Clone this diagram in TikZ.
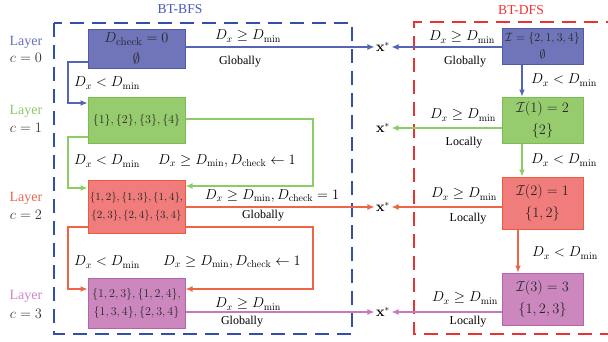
\documentclass[tikz,border=0pt]{standalone}
\usepackage[no-math]{fontspec}
\setmainfont{Liberation Serif}
\usetikzlibrary{arrows.meta}
\definecolor{fB}{RGB}{112,116,184}
\definecolor{dB}{RGB}{80,90,170}
\definecolor{fG}{RGB}{150,204,110}
\definecolor{dG}{RGB}{120,190,80}
\definecolor{fR}{RGB}{240,124,124}
\definecolor{dR}{RGB}{238,90,60}
\definecolor{fP}{RGB}{204,136,190}
\definecolor{dP}{RGB}{180,100,170}
\definecolor{cBl}{RGB}{85,100,180}
\definecolor{cG}{RGB}{140,204,100}
\definecolor{cR}{RGB}{240,100,70}
\definecolor{cP}{RGB}{200,120,190}
\definecolor{frB}{RGB}{50,80,170}
\definecolor{frR}{RGB}{235,50,50}
\definecolor{tB}{RGB}{70,90,180}
\definecolor{tR}{RGB}{240,50,50}
\definecolor{lB}{RGB}{100,110,190}
\definecolor{lG}{RGB}{140,200,100}
\definecolor{lR}{RGB}{240,100,80}
\definecolor{lP}{RGB}{210,130,200}
\definecolor{cc}{RGB}{50,50,50}
\tikzset{
  frame/.style={line width=1.3pt, dash pattern=on 14pt off 8pt},
  box/.style={draw, line width=1pt, align=center, inner sep=1pt, text=black!85},
  bfsbox/.style={box, minimum width=97pt},
  dfsbox/.style={box, minimum width=81pt, font=\fontsize{14}{22}\selectfont},
  lab/.style={font=\fontsize{12}{14}\selectfont, inner sep=0pt},
  mlab/.style={font=\fontsize{14.5}{16}\selectfont, inner sep=0pt},
  ttl/.style={font=\fontsize{13.6}{15}\selectfont, inner sep=0pt},
  layer/.style={font=\fontsize{14}{16}\selectfont, inner sep=0pt},
  cl/.style={font=\fontsize{15}{16}\selectfont, inner sep=0pt, text=cc},
  xs/.style={font=\fontsize{13.5}{15}\selectfont, inner sep=1.5pt},
  con/.style={line width=1.2pt},
  arr/.style={con, -{Latex[length=7pt,width=6pt]}},
}
\begin{document}
\begin{tikzpicture}[x=1pt,y=-1pt]
\useasboundingbox (0,0) rectangle (608,341);
% frames
\draw[frame, frB] (54,23) rectangle (352,334);
\draw[frame, frR] (620,22) -- (414,22) -- (414,334) -- (620,334);
\node[ttl, text=tB] (tbfs) at (180,9) {BT-BFS};
\node[ttl, text=tR] (tdfs) at (521,10) {BT-DFS};
% layers
\node[layer, text=lB] (l0) at (26,42) {Layer};
\node[cl] (c0) at (26,58) {$c=0$};
\node[layer, text=lG] (l1) at (26,111) {Layer};
\node[cl] (c1) at (26,128) {$c=1$};
\node[layer, text=lR] (l2) at (26,198) {Layer};
\node[cl] (c2) at (26,215) {$c=2$};
\node[layer, text=lP] (l3) at (26,296) {Layer};
\node[cl] (c3) at (26,314) {$c=3$};
% BFS boxes
\node[bfsbox, fill=fB, draw=dB, minimum height=39pt, font=\fontsize{15}{21}\selectfont] (b0) at (136.5,48.5) {$D_{\mathrm{check}}=0$\\$\emptyset$};
\node[bfsbox, fill=fG, draw=dG, minimum height=46pt, font=\fontsize{12.7}{15}\selectfont] (g0) at (136.5,120) {$\{1\},\{2\},\{3\},\{4\}$};
\node[bfsbox, fill=fR, draw=dR, minimum height=53pt, font=\fontsize{11}{18}\selectfont] (r0) at (136.5,206.5) {$\{1,2\},\{1,3\},\{1,4\},$\\$\{2,3\},\{2,4\},\{3,4\}$};
\node[bfsbox, fill=fP, draw=dP, minimum height=50pt, font=\fontsize{13}{18}\selectfont] (p0) at (136.5,303) {$\{1,2,3\},\{1,2,4\},$\\$\{1,3,4\},\{2,3,4\}$};
% DFS boxes
\node[dfsbox, fill=fB, draw=dB, minimum height=36pt, font=\fontsize{12.4}{17}\selectfont] (b1) at (542.5,46) {$\mathcal{I}=\{2,1,3,4\}$\\$\emptyset$};
\node[dfsbox, fill=fG, draw=dG, minimum height=46pt] (g1) at (542.5,120) {$\mathcal{I}(1)=2$\\$\{2\}$};
\node[dfsbox, fill=fR, draw=dR, minimum height=52pt] (r1) at (542.5,203) {$\mathcal{I}(2)=1$\\$\{1,2\}$};
\node[dfsbox, fill=fP, draw=dP, minimum height=52pt] (p1) at (542.5,299) {$\mathcal{I}(3)=3$\\$\{1,2,3\}$};
% x* nodes
\node[xs] (x0) at (383,47) {$\mathbf{x}^*$};
\node[xs] (x1) at (383,128) {$\mathbf{x}^*$};
\node[xs] (x2) at (383,207) {$\mathbf{x}^*$};
\node[xs] (x3) at (383,312) {$\mathbf{x}^*$};
% row 0
\draw[arr, cBl] (b0.east |- x0) -- (x0);
\draw[arr, cBl] (x0 -| b1.west) -- (x0);
\draw[arr, cBl] (b0.west |- 0,62) -- (68,62) |- (g0.west |- 0,103);
\draw[arr, cBl] (b1.south -| 522,0) -- (g1.north -| 522,0);
% row 1
\draw[arr, cG] (g0.west |- 0,137) -- (68,137) |- (r0.west |- 0,188);
\draw[arr, cG] (g0.east |- 0,119) -- (313,119) |- (r0.east |- 0,186);
\draw[arr, cG] (x1 -| g1.west) -- (x1);
\draw[arr, cG] (g1.south -| 522,0) -- (r1.north -| 522,0);
% row 2
\draw[arr, cR] (r0.east |- x2) -- (x2);
\draw[arr, cR] (x2 -| r1.west) -- (x2);
\draw[arr, cR] (r0.west |- 0,227) -- (68,227) |- (p0.west |- 0,289);
\draw[arr, cR] (r0.east |- 0,227) -- (313,227) |- (p0.east |- 0,289);
\draw[arr, cR] (r1.south -| 518,0) -- (p1.north -| 518,0);
% row 3
\draw[arr, cP] (p0.east |- x3) -- (x3);
\draw[arr, cP] (x3 -| p1.west) -- (x3);
% labels
\node[mlab] (a1) at (248,36) {$D_x\geq D_{\min}$};
\node[lab] (a2) at (240,62) {Globally};
\node[mlab] (a3) at (462,37) {$D_x\geq D_{\min}$};
\node[lab] (a4) at (465,62) {Globally};
\node[mlab] (a5) at (107,83) {$D_x< D_{\min}$};
\node[mlab] (a6) at (564,80) {$D_x< D_{\min}$};
\node[mlab] (a7) at (463,115) {$D_x\geq D_{\min}$};
\node[lab] (a8) at (464,143) {Locally};
\node[mlab] (a9) at (107,161) {$D_x< D_{\min}$};
\node[mlab] (a10) at (227,161) {$D_x\geq D_{\min}, D_{\mathrm{check}}\leftarrow 1$};
\node[mlab] (a11) at (564,160) {$D_x< D_{\min}$};
\node[mlab] (a12) at (272,196) {$D_x\geq D_{\min}, D_{\mathrm{check}}=1$};
\node[lab] (a13) at (263,216) {Globally};
\node[mlab] (a14) at (464,194) {$D_x\geq D_{\min}$};
\node[lab] (a15) at (468,219) {Locally};
\node[mlab] (a16) at (565,253) {$D_x< D_{\min}$};
\node[mlab] (a17) at (107,262) {$D_x< D_{\min}$};
\node[mlab] (a18) at (232,262) {$D_x\geq D_{\min}, D_{\mathrm{check}}\leftarrow 1$};
\node[mlab] (a19) at (248,304) {$D_x\geq D_{\min}$};
\node[lab] (a20) at (242,322) {Globally};
\node[mlab] (a21) at (465,298) {$D_x\geq D_{\min}$};
\node[lab] (a22) at (468,322) {Locally};
\end{tikzpicture}
\end{document}
